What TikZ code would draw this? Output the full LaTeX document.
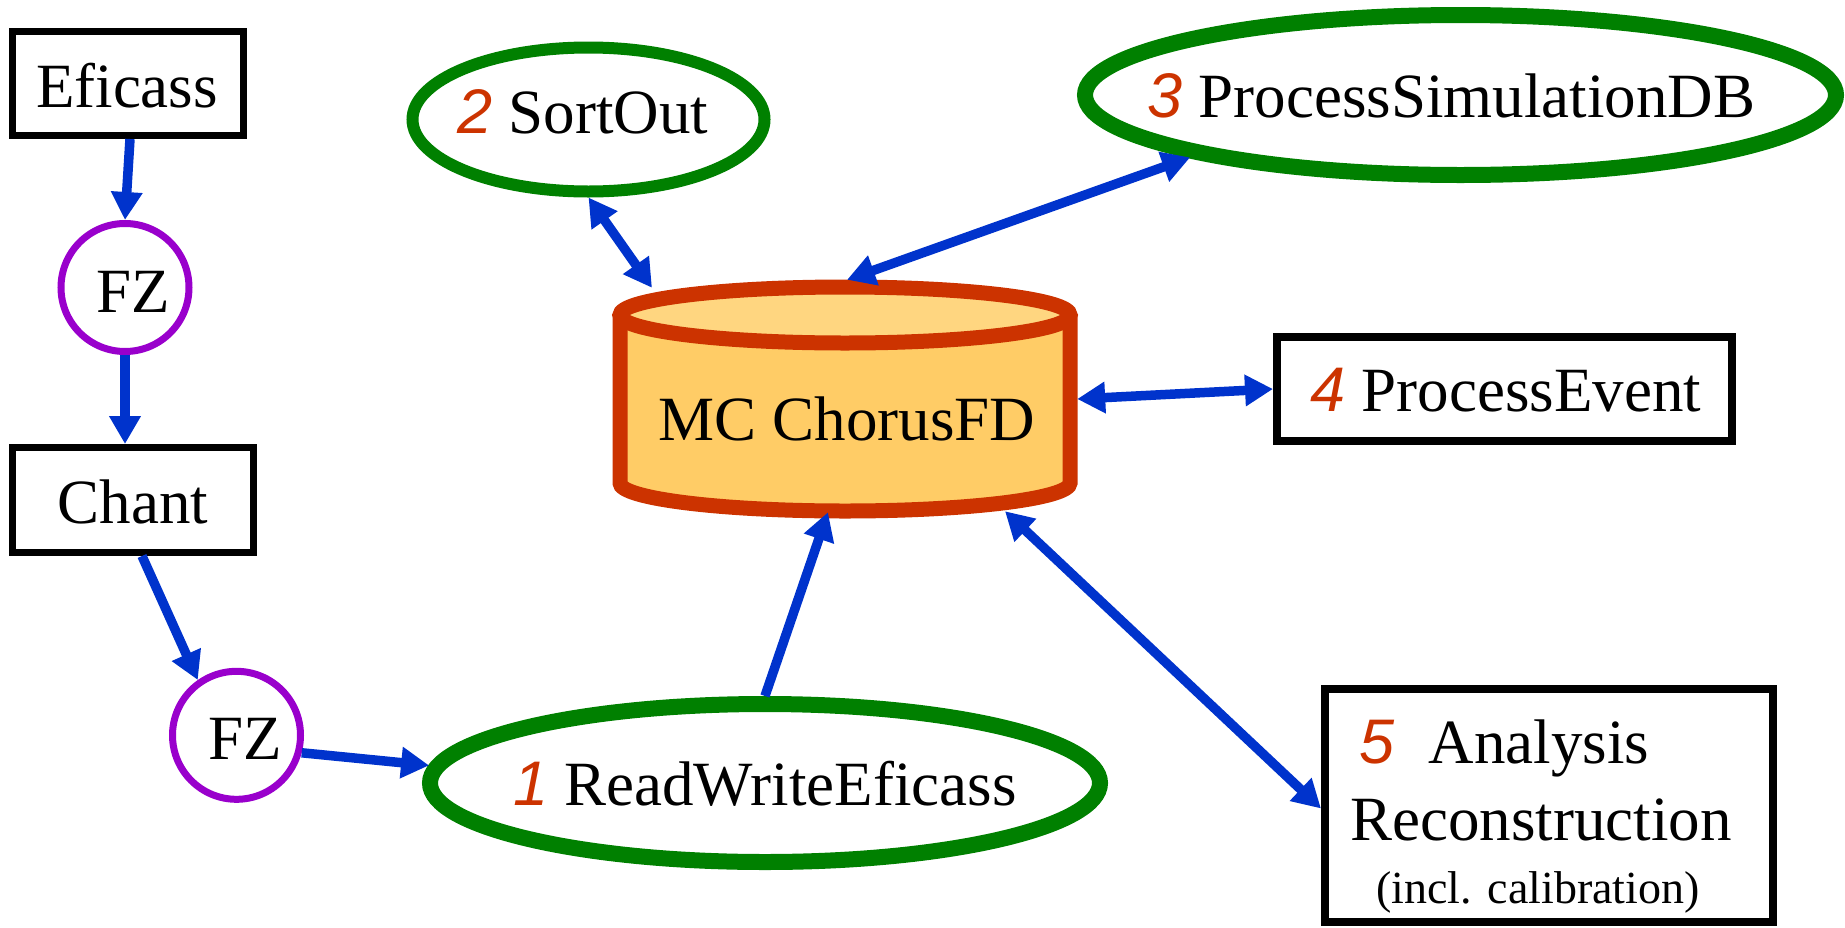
\documentclass[tikz,border=0pt]{standalone}
\usepackage{fontspec}
\setmainfont{Liberation Serif}
\setsansfont{Liberation Sans}
\usetikzlibrary{arrows.meta,shapes.geometric}
\definecolor{arrowblue}{HTML}{0033CC}
\definecolor{procgreen}{HTML}{008000}
\definecolor{fzpurple}{HTML}{9900CC}
\definecolor{cylred}{HTML}{CC3300}
\definecolor{cylbody}{HTML}{FFCC66}
\definecolor{cyltop}{HTML}{FFD680}
\newcommand\stepnum[1]{{\color{cylred}\sffamily\itshape #1}}
\newcommand\lbl[3]{\raisebox{#2}[0pt][0pt]{\makebox[0pt]{\hspace*{#1}\hspace*{#1}#3}}}
\begin{document}
\begin{tikzpicture}[x=1pt,y=-1pt,
  every node/.style={inner sep=0pt, font=\fontsize{63}{70}\selectfont},
  boxnode/.style={draw=black, line width=7pt, rectangle},
  fznode/.style={draw=fzpurple, line width=7pt, circle, minimum size=128pt},
  procnode/.style={draw=procgreen, ellipse},
  arr/.style={draw=arrowblue, line width=9.5pt, -{Triangle[width=30pt,length=28pt]}},
  darr/.style={draw=arrowblue, line width=9.5pt, {Triangle[width=30pt,length=28pt]}-{Triangle[width=30pt,length=28pt]}},
  cylline/.style={draw=cylred, line width=15pt}
]
\useasboundingbox (0,0) rectangle (1845,927);

% left column
\node[boxnode, minimum width=231pt, minimum height=104pt] (ef) at (128,83.5) {\lbl{-1pt}{-23.5pt}{Eficass}};
\node[fznode] (fz1) at (125,287.5) {\lbl{8.5pt}{-24.5pt}{FZ}};
\node[boxnode, minimum width=241pt, minimum height=105pt] (ch) at (133,500) {\lbl{0pt}{-23pt}{Chant}};
\node[fznode] (fz2) at (236.5,735.3) {\lbl{8.5pt}{-24pt}{FZ}};

% process ellipses
\node[procnode, line width=16pt, minimum width=670pt, minimum height=158pt] (rw) at (765,783) {\lbl{0pt}{-22pt}{\stepnum{1} ReadWriteEficass}};
\node[procnode, line width=12pt, minimum width=352pt, minimum height=144pt] (so) at (588.5,119.5) {\lbl{-5.5pt}{-13.5pt}{\stepnum{2} SortOut}};
\node[procnode, line width=16pt, minimum width=751pt, minimum height=160pt] (ps) at (1460.5,95) {\lbl{-9pt}{-22pt}{\stepnum{3} ProcessSimulationDB}};

% boxes on the right
\node[boxnode, line width=8pt, minimum width=455pt, minimum height=104pt] (pe) at (1504.5,389) {\lbl{1.5pt}{-22pt}{\stepnum{4} ProcessEvent}};
\node[boxnode, line width=8pt, minimum width=448pt, minimum height=233pt] (an) at (1549,805.5) {%
\lbl{-44.5pt}{42.5pt}{\stepnum{5}\hspace{34pt}Analysis}%
\lbl{-8pt}{-34.5pt}{Reconstruction}%
\lbl{-11pt}{-97.5pt}{\fontsize{46}{50}\selectfont (incl. calibration)}};

% cylinder
\fill[cylbody] (620,315) -- (620,483) arc[start angle=180,end angle=360,x radius=225pt,y radius=28pt] -- (1070,315) -- cycle;
\path[cylline] (620,315) -- (620,483) arc[start angle=180,end angle=360,x radius=225pt,y radius=28pt] -- (1070,315);
\path[cylline, fill=cyltop] (845,315) ellipse[x radius=225pt, y radius=28pt];
\node[minimum width=464pt, minimum height=238pt] (cyl) at (845,399) {\lbl{2pt}{-41pt}{MC ChorusFD}};

% connectors
\draw[arr] ([xshift=2pt]ef.south) -- (fz1.north);
\draw[arr] (fz1.south) -- ([xshift=-8pt]ch.north);
\draw[arr] ([xshift=9pt]ch.south) -- (fz2.125);
\draw[arr] (fz2.345) -- (rw.177);
\draw[arr] (rw.north) -- ([xshift=-17pt,yshift=6pt]cyl.south);
\draw[darr] (so.south) -- ([xshift=-193pt,yshift=-8pt]cyl.north);
\draw[darr] (ps.193) -- ([xshift=2pt]cyl.north);
\draw[darr] (cyl.east) -- (pe.west);
\draw[darr] ([xshift=160pt,yshift=7pt]cyl.south) -- ([yshift=-3pt]an.west);
\end{tikzpicture}
\end{document}
